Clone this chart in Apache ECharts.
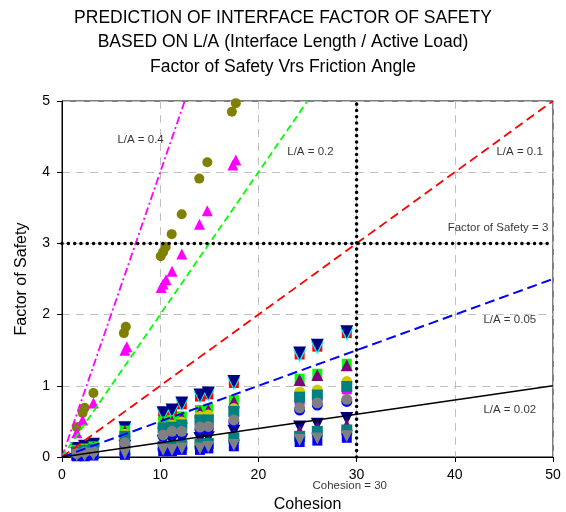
<!DOCTYPE html>
<html><head><meta charset="utf-8">
<script src="https://cdn.jsdelivr.net/npm/echarts@6/dist/echarts.min.js"></script>
<style>html,body{margin:0;padding:0;background:#fff}#c{width:566px;height:512px}</style>
</head><body><div id="c"></div>
<script>
var titleLines = ["PREDICTION OF INTERFACE FACTOR OF SAFETY", "BASED ON L/A (Interface Length / Active Load)", "Factor of Safety Vrs Friction Angle"];
var xTicks = [0, 10, 20, 30, 40, 50];
var yTicks = [0, 1, 2, 3, 4, 5];
// cohesion columns of the clustered test results
var xs = [1.5, 2.3, 3.2, 6.4, 10.3, 11.2, 12.2, 14.05, 14.9, 17.5, 24.2, 26.0, 29.0];
var redHi    = [0.11,0.14,0.17,0.39,0.60,0.64,0.74,0.85,0.88,1.04,1.44,1.55,1.74];
var cyanHi   = [0.10,0.13,0.16,0.38,0.59,0.63,0.73,0.84,0.87,1.03,1.42,1.53,1.72];
var navyHi   = [0.12,0.15,0.18,0.41,0.62,0.66,0.76,0.87,0.90,1.06,1.46,1.57,1.76];
var greenHi  = [0.10,0.12,0.15,0.37,0.50,0.52,0.57,0.66,0.68,0.80,1.10,1.17,1.31];
var purpleHi = [0.09,0.11,0.14,0.36,0.48,0.50,0.55,0.64,0.66,0.78,1.08,1.15,1.29];
var yellowHi = [0.08,0.10,0.12,0.32,0.43,0.45,0.49,0.57,0.59,0.68,0.91,0.94,1.06];
var magSqHi  = [0.06,0.08,0.10,0.27,0.38,0.39,0.42,0.49,0.49,0.61,0.80,0.83,0.95];
var tealHi   = [0.07,0.09,0.11,0.29,0.41,0.42,0.45,0.52,0.52,0.64,0.84,0.87,0.99];
var blueHi   = [0.04,0.06,0.07,0.18,0.29,0.33,0.33,0.39,0.40,0.49,0.66,0.73,0.78];
var greyHi   = [0.05,0.07,0.08,0.20,0.31,0.36,0.36,0.42,0.43,0.52,0.69,0.76,0.81];
var navyLo   = [0.05,0.06,0.07,0.15,0.22,0.22,0.24,0.26,0.27,0.36,0.42,0.46,0.54];
var purpleLo = [0.04,0.05,0.06,0.12,0.19,0.19,0.20,0.22,0.24,0.31,0.36,0.41,0.45];
var tealLo   = [0.03,0.04,0.05,0.09,0.15,0.15,0.16,0.18,0.19,0.27,0.29,0.36,0.38];
var blueLo   = [0.01,0.01,0.02,0.03,0.08,0.08,0.10,0.10,0.12,0.15,0.21,0.23,0.27];
var greyLo   = [0.02,0.02,0.03,0.05,0.10,0.10,0.12,0.12,0.14,0.17,0.24,0.26,0.29];
// high L/A results
var oliveX = [1.5, 2.1, 2.3, 3.2, 6.3, 6.5, 10.05, 10.3, 10.56, 11.17, 12.19, 13.98, 14.8, 17.3, 17.7];
var oliveY = [0.42, 0.62, 0.69, 0.90, 1.74, 1.83, 2.82, 2.88, 2.95, 3.13, 3.41, 3.91, 4.14, 4.85, 4.97];
var magX = [1.5, 2.1, 3.2, 6.4, 6.6, 10.1, 10.3, 10.6, 11.2, 12.2, 14.0, 14.8, 17.4, 17.7];
var magY = [0.34, 0.52, 0.76, 1.50, 1.55, 2.38, 2.43, 2.49, 2.61, 2.85, 3.27, 3.46, 4.10, 4.17];
// prediction lines (start and end points)
var line04 = [[0,0],[12.5,5]];
var line02 = [[0,0],[25,5]];
var line01 = [[0,0],[50,5]];
var line005 = [[0,0],[50,2.5]];
var line002 = [[0,0],[50,1]];
var fsLine = [[0,3],[50,3]];
var cohLine = [[30,0],[30,5]];
var labelNames = ["L/A = 0.4","L/A = 0.2","L/A = 0.1","Factor of Safety = 3","L/A = 0.05","L/A = 0.02","Cohesion = 30"];
var labelPos = [[8.0,4.45],[25.3,4.28],[46.6,4.28],[44.4,3.22],[45.6,1.92],[45.6,0.66],[29.3,-0.41]];

function zip(a, b){ return a.map(function(v,i){ return [v, b[i]]; }); }
function sc(color, symbol, size, data, rot){
  return {type:'scatter', symbol:symbol, symbolSize:size, symbolRotate:rot||0, clip:false,
    itemStyle:{color:color, opacity:1}, data:data, silent:true, z:2};
}
function ln(data, color, width, type, cap){
  return {type:'line', data:data, symbol:'none', silent:true, z:5,
    lineStyle:{color:color, width:width, type:type, cap:cap||'butt'}};
}
var FONT = 'Liberation Sans, Arial, sans-serif';
var series = [
  sc('#ff0000','rect',10, zip(xs,redHi)),
  sc('#00ffff','triangle',13, zip(xs,cyanHi),180),
  sc('#000080','triangle',13, zip(xs,navyHi).concat(zip(xs,navyLo)),180),
  sc('#00ff00','rect',10, zip(xs,greenHi)),
  sc('#800080','triangle',12, zip(xs,purpleHi).concat(zip(xs,purpleLo))),
  sc('#cccc00','circle',11, zip(xs,yellowHi)),
  sc('#ff00ff','rect',10, zip(xs,magSqHi)),
  sc('#008080','rect',11, zip(xs,tealHi).concat(zip(xs,tealLo))),
  sc('#0000ff','circle',11, zip(xs,blueHi)),
  sc('#0000ff','rect',10, zip(xs,blueLo)),
  sc('#808080','circle',11, zip(xs,greyHi)),
  sc('#808080','triangle',12, zip(xs,greyLo),180),
  sc('#808000','circle',10, zip(oliveX,oliveY)),
  sc('#ff00ff','triangle',11, zip(magX,magY)),
  ln(line04,'#ff00ff',1.8,[8,3,2,3]),
  ln(line02,'#00ff00',1.8,[7,4]),
  ln(line01,'#ff0000',1.8,[9,5]),
  ln(line005,'#0000ff',2,[10,5]),
  ln(line002,'#000000',1.6,'solid'),
  ln(fsLine,'#000000',3.5,[0.1,6.2],'round'),
  ln(cohLine,'#000000',3.5,[0.1,6.2],'round'),
  {type:'scatter', symbolSize:0, clip:false, silent:true, z:6,
   data: labelNames.map(function(n,i){ return {name:n, value:labelPos[i]}; }),
   label:{show:true, position:'inside', formatter:function(p){return p.name;}, color:'#000', fontSize:11.5, fontFamily:FONT}}
];
var chart = echarts.init(document.getElementById('c'), null, {renderer:'canvas'});
chart.setOption({
  animation:false,
  backgroundColor:'#fff',
  textStyle:{fontFamily:FONT},
  graphic: titleLines.map(function(t,i){
    return {type:'text', x:283, y:[18,42,67][i],
      style:{text:t, fill:'#000', font:'17.5px '+FONT, textAlign:'center', textVerticalAlign:'middle'}};
  }),
  grid:{left:62, right:13, top:101, bottom:55, containLabel:false, outerBoundsMode:'none',
    show:true, borderColor:'#000', borderWidth:1, backgroundColor:'transparent'},
  xAxis:{type:'value', min:xTicks[0], max:xTicks[xTicks.length-1], interval:10,
    name:'Cohesion', nameLocation:'middle', nameGap:40, nameTextStyle:{color:'#000', fontSize:16, fontFamily:FONT},
    axisLine:{show:true, lineStyle:{color:'#000', width:1}}, axisTick:{show:true, length:5, lineStyle:{color:'#000'}},
    axisLabel:{color:'#000', fontSize:14, margin:11, fontFamily:FONT},
    splitLine:{show:true, lineStyle:{color:'#c0c0c0', type:[8,6], width:1}}},
  yAxis:{type:'value', min:yTicks[0], max:yTicks[yTicks.length-1], interval:1,
    name:'Factor of Safety', nameLocation:'middle', nameGap:32, nameTextStyle:{color:'#000', fontSize:16, fontFamily:FONT},
    axisLine:{show:true, lineStyle:{color:'#000', width:1}}, axisTick:{show:true, length:5, lineStyle:{color:'#000'}},
    axisLabel:{color:'#000', fontSize:14, margin:12, fontFamily:FONT},
    splitLine:{show:true, lineStyle:{color:'#c0c0c0', type:[8,6], width:1}}},
  series:series
});
</script></body></html>
